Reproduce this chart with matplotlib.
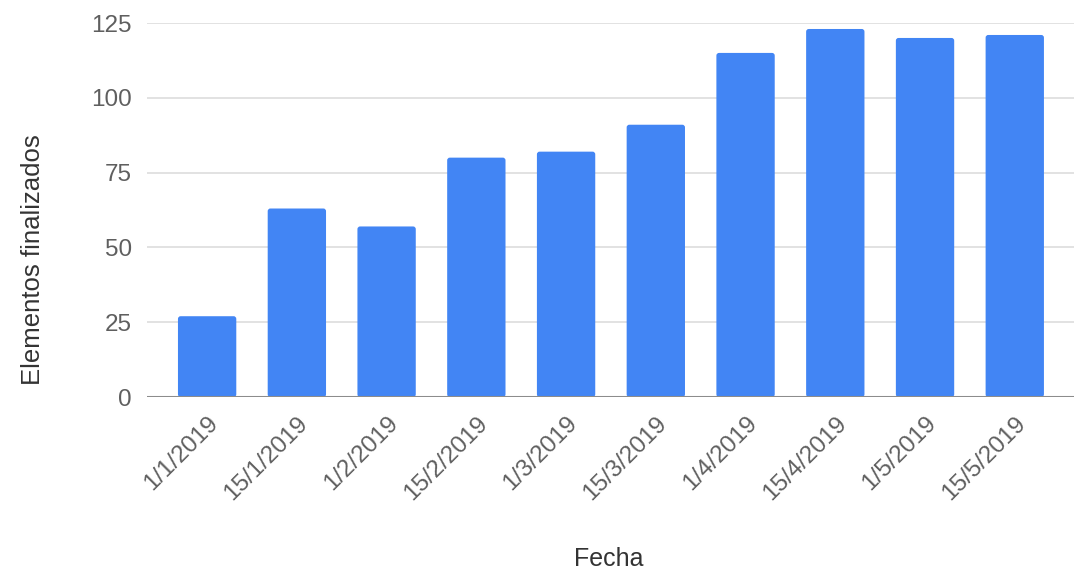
import matplotlib
matplotlib.use("Agg")
import matplotlib.pyplot as plt
from matplotlib.patches import FancyBboxPatch

fechas = ["1/1/2019", "15/1/2019", "1/2/2019", "15/2/2019", "1/3/2019",
          "15/3/2019", "1/4/2019", "15/4/2019", "1/5/2019", "15/5/2019"]
finalizados = [27, 63, 57, 80, 82, 91, 115, 123, 120, 121]
y_ticks = [0, 25, 50, 75, 100, 125]

plt.rcParams['font.family'] = ['Liberation Sans', 'DejaVu Sans']
tick_color = '#5f5f5f'
title_color = '#333333'
bar_color = '#4285F4'

fig = plt.figure(figsize=(10.89, 5.73), dpi=100)
ax = fig.add_axes([147 / 1089, 1 - 397 / 573, (1074 - 147) / 1089, (397 - 23) / 573])

x = list(range(len(fechas)))
bars = ax.bar(x, finalizados, width=0.65, color=bar_color, zorder=3)

# swap plain rectangles for ones with slightly rounded corners
for b in bars:
    b.set_visible(False)
    ax.add_patch(FancyBboxPatch((b.get_x(), b.get_y()), b.get_width(), b.get_height(),
                                boxstyle="round,pad=0,rounding_size=0.03",
                                mutation_aspect=30,
                                facecolor=bar_color, edgecolor='none', zorder=3))

ax.set_xlim(-0.67, len(fechas) - 1 + 0.66)
ax.set_ylim(0, 125)
ax.set_yticks(y_ticks)
ax.yaxis.grid(True, color='#dddddd', linewidth=1.2, zorder=0)
ax.axhline(0, color='#8c8c8c', linewidth=2.2, zorder=4)

for s in ax.spines.values():
    s.set_visible(False)
ax.tick_params(axis='both', length=0, labelsize=17.5, colors=tick_color)
ax.tick_params(axis='y', pad=11)
ax.set_xticks(x)
ax.set_xticklabels(fechas, rotation=45, ha='right', rotation_mode='anchor')
ax.tick_params(axis='x', pad=11)

fig.text(609 / 1089, 1 - 559 / 573, 'Fecha', ha='center', va='center',
         fontsize=18, color=title_color)
fig.text(33 / 1089, 1 - 260 / 573, 'Elementos finalizados', ha='center', va='center',
         rotation=90, fontsize=18.5, color=title_color)

fig.savefig('out.png', dpi=100)
